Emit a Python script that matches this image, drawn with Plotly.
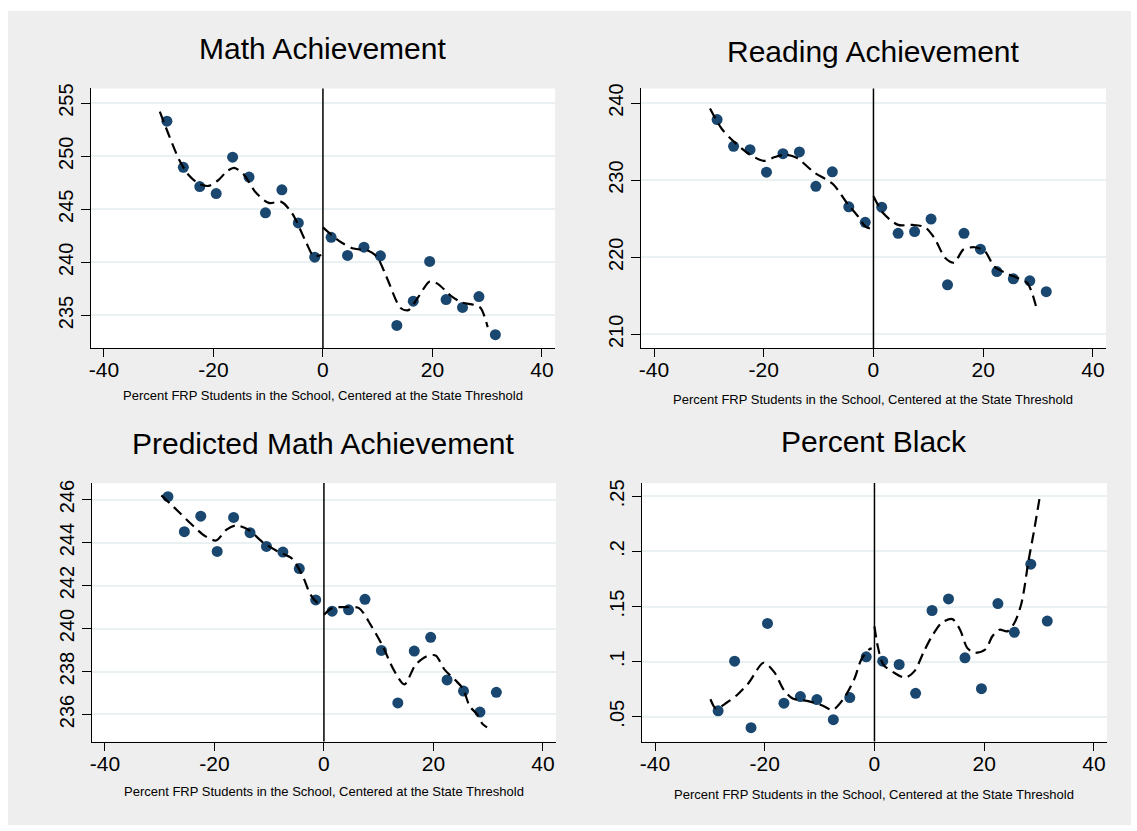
import plotly.graph_objects as go

# ---------------- data ----------------
x_bins = [-28.5, -25.5, -22.5, -19.5, -16.5, -13.5, -10.5, -7.5, -4.5, -1.5,
          1.5, 4.5, 7.5, 10.5, 13.5, 16.5, 19.5, 22.5, 25.5, 28.5, 31.5]

math_vals = [253.3, 248.95, 247.14, 246.48, 249.91, 248.04, 244.67, 246.83, 243.71, 240.49,
             242.36, 240.65, 241.43, 240.62, 234.06, 236.34, 240.09, 236.50, 235.75, 236.78, 233.19]
read_vals = [237.86, 234.39, 233.96, 231.04, 233.44, 233.66, 229.20, 231.08, 226.54, 224.53,
             226.50, 223.11, 223.33, 224.96, 216.43, 223.11, 221.05, 218.14, 217.20, 216.94, 215.53]
pred_vals = [246.14, 244.51, 245.23, 243.59, 245.17, 244.46, 243.82, 243.56, 242.79, 241.33,
             240.81, 240.87, 241.36, 238.98, 236.54, 238.95, 239.59, 237.61, 237.09, 236.11, 237.03]
black_vals = [0.0554, 0.1004, 0.0401, 0.1347, 0.0623, 0.0683, 0.0656, 0.0473, 0.0674, 0.1044,
              0.1004, 0.0974, 0.0713, 0.1464, 0.1569, 0.1035, 0.0755, 0.1527, 0.1266, 0.1884, 0.1368]

# smoothed fits (left and right of the threshold)
math_fit_lx = [-29.8, -28.0, -26.2, -24.5, -22.8, -20.9, -19.0, -17.5, -16.2, -14.5, -12.3, -9.9, -7.6, -5.6, -3.0, -1.7, -0.3]
math_fit_ly = [254.2, 251.8, 249.6, 248.2, 247.45, 247.2, 247.8, 248.6, 248.9, 248.3, 246.6, 245.6, 245.7, 244.6, 241.8, 240.6, 240.7]
math_fit_rx = [0.0, 3.0, 5.6, 8.3, 9.9, 11.6, 14.2, 15.6, 17.5, 19.5, 20.9, 23.5, 25.5, 27.5, 28.8, 30.1]
math_fit_ry = [243.3, 242.0, 241.3, 241.1, 240.5, 238.65, 235.7, 235.5, 236.8, 238.2, 238.0, 236.8, 236.2, 236.0, 235.7, 233.9]

read_fit_lx = [-29.8, -27.6, -25.3, -22.7, -20.0, -18.0, -16.0, -14.0, -10.8, -7.4, -4.8, -2.8, -1.5, -0.5]
read_fit_ly = [239.3, 236.6, 234.9, 233.4, 232.5, 233.0, 233.3, 232.9, 231.0, 229.5, 227.0, 225.3, 224.0, 223.7]
read_fit_rx = [0.0, 1.8, 4.5, 7.1, 9.4, 11.1, 13.1, 14.7, 16.4, 18.4, 20.3, 22.0, 24.3, 26.3, 28.0, 28.9, 29.9]
read_fit_ry = [227.9, 225.7, 224.2, 224.2, 223.9, 222.5, 219.9, 219.3, 221.0, 221.3, 220.8, 218.8, 217.9, 217.3, 216.7, 215.4, 212.9]

pred_fit_lx = [-29.7, -26.4, -24.4, -21.7, -19.7, -17.8, -16.1, -13.8, -11.1, -8.5, -5.8, -3.8, -2.5, -1.2, -0.3]
pred_fit_ly = [246.2, 245.4, 244.9, 244.3, 244.1, 244.6, 244.8, 244.6, 244.0, 243.6, 243.25, 242.4, 241.6, 241.2, 241.1]
pred_fit_rx = [0.0, 1.5, 4.1, 6.4, 8.7, 10.7, 12.7, 14.7, 16.7, 18.7, 20.4, 22.0, 24.0, 25.4, 26.6, 28.0, 29.0, 29.8]
pred_fit_ry = [240.64, 240.95, 241.0, 240.95, 240.1, 239.2, 238.1, 237.4, 238.3, 238.7, 238.75, 238.1, 237.6, 237.2, 236.4, 236.0, 235.55, 235.4]

black_fit_lx = [-29.9, -28.9, -26.9, -24.9, -22.9, -20.2, -18.2, -16.6, -14.9, -12.3, -9.6, -7.6, -5.7, -3.7, -2.4, -1.0, -0.5]
black_fit_ly = [0.0659, 0.0575, 0.0629, 0.0704, 0.0809, 0.099, 0.090, 0.0749, 0.0665, 0.0644, 0.0605, 0.0563, 0.0659, 0.0839, 0.102, 0.111, 0.112]
black_fit_rx = [0.0, 0.6, 1.6, 3.6, 5.6, 7.3, 8.9, 10.3, 12.2, 14.2, 15.6, 16.9, 18.2, 20.2, 21.5, 22.8, 24.2, 25.5, 26.8, 28.1, 29.1, 30.1]
black_fit_ry = [0.132, 0.114, 0.0974, 0.0899, 0.0854, 0.0914, 0.108, 0.1215, 0.135, 0.1386, 0.129, 0.1125, 0.108, 0.111, 0.123, 0.129, 0.1275, 0.135, 0.153, 0.192, 0.219, 0.2485]

titles = ["Math Achievement", "Reading Achievement", "Predicted Math Achievement", "Percent Black"]
x_label = "Percent FRP Students in the School, Centered at the State Threshold"
x_tickvals = [-40, -20, 0, 20, 40]
x_ticktext = ["-40", "-20", "0", "20", "40"]
y_tickvals = [[235, 240, 245, 250, 255],
              [210, 220, 230, 240],
              [236, 238, 240, 242, 244, 246],
              [0.05, 0.10, 0.15, 0.20, 0.25]]
y_ticktext = [["235", "240", "245", "250", "255"],
              ["210", "220", "230", "240"],
              ["236", "238", "240", "242", "244", "246"],
              [".05", ".1", ".15", ".2", ".25"]]
y_ranges = [[231.94, 256.38], [208.24, 241.89], [234.74, 246.77], [0.0275, 0.262]]

# ---------------- styling / layout ----------------
W, H = 1137, 831
FONT = "Liberation Sans, Arial, sans-serif"
MARKER = "#1A476F"
BG = "#EEEEEE"
GRID = "#EAF1F3"

# plot areas in pixels (left, right, top, bottom)
boxes = [(89, 554, 84, 345), (640, 1106, 84, 345), (90, 555, 481, 741), (641, 1107, 481, 741)]
title_y = [44, 47, 441, 439]
xlab_y = [393, 396.7, 791.7, 794]

series = [math_vals, read_vals, pred_vals, black_vals]
fits = [(math_fit_lx, math_fit_ly, math_fit_rx, math_fit_ry),
        (read_fit_lx, read_fit_ly, read_fit_rx, read_fit_ry),
        (pred_fit_lx, pred_fit_ly, pred_fit_rx, pred_fit_ry),
        (black_fit_lx, black_fit_ly, black_fit_rx, black_fit_ry)]

fig = go.Figure()
layout = dict(
    width=W, height=H, margin=dict(l=0, r=0, t=0, b=0),
    paper_bgcolor=BG, plot_bgcolor="white", showlegend=False,
    font=dict(family=FONT, color="black"),
    shapes=[], annotations=[],
)

for i in range(4):
    n = "" if i == 0 else str(i + 1)
    xa, ya = "x" + n, "y" + n
    l, r, t, b = boxes[i]
    fig.add_trace(go.Scatter(x=x_bins, y=series[i], mode="markers", xaxis=xa, yaxis=ya,
                             marker=dict(color=MARKER, size=11, line=dict(width=0))))
    lx, ly, rx, ry = fits[i]
    for fx, fy in ((lx, ly), (rx, ry)):
        fig.add_trace(go.Scatter(x=fx, y=fy, mode="lines", xaxis=xa, yaxis=ya,
                                 line=dict(color="black", width=2.2, dash="11px,6px",
                                           shape="spline", smoothing=0.8)))
    layout["xaxis" + n] = dict(
        domain=[l / W, r / W], anchor=ya, range=[-42.4, 42.4],
        tickvals=x_tickvals, ticktext=x_ticktext, ticks="outside", ticklen=8,
        tickwidth=1.3, tickcolor="black", showline=True, linecolor="black", linewidth=1.3,
        showgrid=False, zeroline=False, tickfont=dict(size=21, family=FONT),
        ticklabelstandoff=-5,
    )
    layout["yaxis" + n] = dict(
        domain=[1 - b / H, 1 - t / H], anchor=xa, range=y_ranges[i],
        tickvals=y_tickvals[i], ticktext=y_ticktext[i], tickangle=-90,
        ticks="outside", ticklen=9, tickwidth=1.3, tickcolor="black",
        showline=True, linecolor="black", linewidth=1.3,
        showgrid=True, gridcolor=GRID, gridwidth=2, zeroline=False,
        tickfont=dict(size=20, family=FONT),
    )
    layout["shapes"].append(dict(type="line", xref=xa, yref=ya + " domain",
                                 x0=0, x1=0, y0=0, y1=1,
                                 line=dict(color="black", width=1.5), layer="above"))
    cx = (l + r) / 2 / W
    layout["annotations"].append(dict(text=titles[i], x=cx, y=1 - title_y[i] / H,
                                      xref="paper", yref="paper", xanchor="center", yanchor="middle",
                                      showarrow=False, font=dict(size=30, family=FONT, color="black")))
    layout["annotations"].append(dict(text=x_label, x=cx, y=1 - xlab_y[i] / H,
                                      xref="paper", yref="paper", xanchor="center", yanchor="middle",
                                      showarrow=False, font=dict(size=13, family=FONT, color="black")))

# white outer frame
layout["shapes"].append(dict(type="rect", xref="paper", yref="paper", x0=0, x1=1, y0=0, y1=1,
                             line=dict(color="white", width=12), fillcolor="rgba(0,0,0,0)", layer="below"))

fig.update_layout(**layout)
fig.write_html("out.html", config={"displayModeBar": False},
               post_script="document.body.style.margin='0';document.body.style.overflow='hidden';")
